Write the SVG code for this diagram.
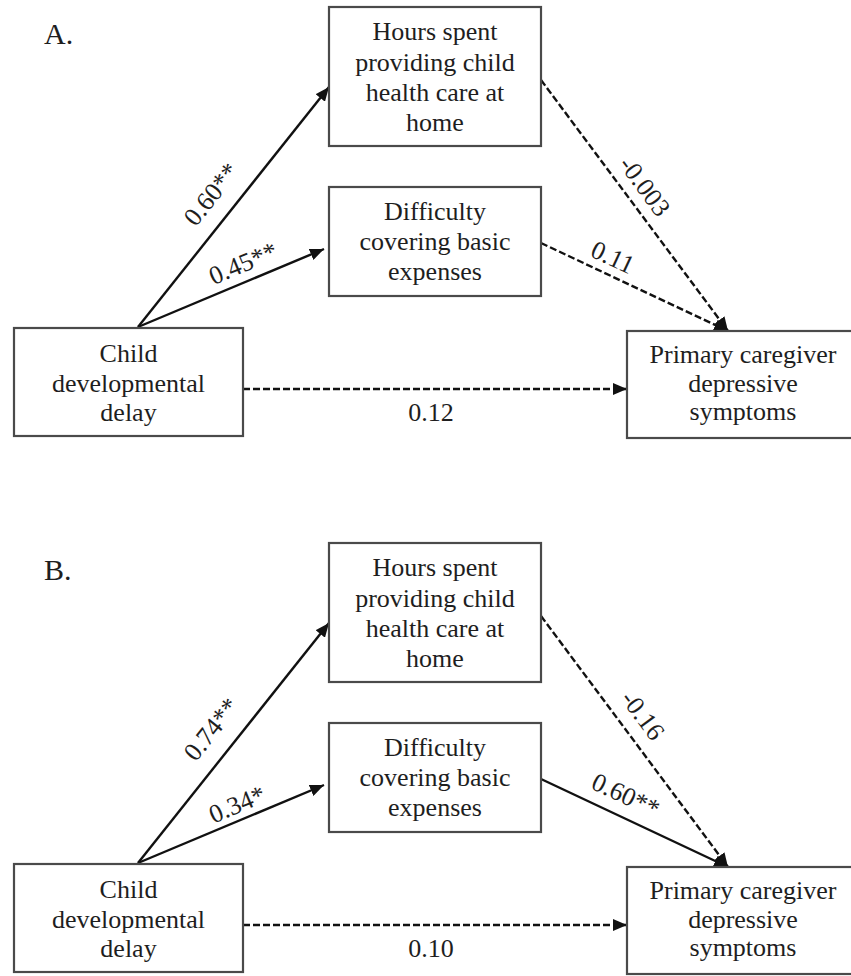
<svg xmlns="http://www.w3.org/2000/svg" width="851" height="976" viewBox="0 0 851 976">
<style>
  .box{fill:#fff;stroke:#4a4a4a;stroke-width:2.2}
  .t{font-family:"Liberation Serif","Times New Roman",serif;font-size:26px;fill:#1e1e1e;text-anchor:middle}
  .panel{font-family:"Liberation Serif","Times New Roman",serif;font-size:30px;fill:#1e1e1e}
  .solid{stroke:#111;stroke-width:2.4;fill:none;marker-end:url(#ah)}
  .dash{stroke:#111;stroke-width:2.4;fill:none;stroke-dasharray:7 3;marker-end:url(#ah)}
</style>
<defs>
  <marker id="ah" markerUnits="userSpaceOnUse" markerWidth="14" markerHeight="12" refX="14" refY="6" orient="auto">
    <path d="M0,0 L14,6 L0,12 z" fill="#111"/>
  </marker>
</defs>
<rect width="851" height="976" fill="#fff"/>

<!-- Panel A -->
<g id="panelA">
  <text class="panel" x="44" y="44">A.</text>
  <g id="connectorsA">
    <line class="solid" x1="138" y1="327" x2="329" y2="87"/>
    <line class="solid" x1="138" y1="327" x2="324" y2="249"/>
    <line class="dash" x1="541" y1="80" x2="728" y2="331"/>
    <line class="dash" x1="541" y1="243" x2="728" y2="331"/>
    <line class="dash" x1="243" y1="389" x2="627" y2="389"/>
    <text class="t" transform="translate(211,194) rotate(-51.5)" y="9">0.60**</text>
    <text class="t" transform="translate(243,263) rotate(-22.8)" y="9">0.45**</text>
    <text class="t" transform="translate(645,186) rotate(53.4)" y="9">-0.003</text>
    <text class="t" transform="translate(613,257) rotate(25)" y="9">0.11</text>
    <text class="t" x="431" y="421">0.12</text>
  </g>
  <g id="A_hours">
    <rect class="box" x="329" y="7" width="212" height="139"/>
    <text class="t" x="435" y="40">Hours spent</text>
    <text class="t" x="435" y="71">providing child</text>
    <text class="t" x="435" y="101">health care at</text>
    <text class="t" x="435" y="131">home</text>
  </g>
  <g id="A_difficulty">
    <rect class="box" x="329" y="187" width="212" height="109"/>
    <text class="t" x="435" y="220">Difficulty</text>
    <text class="t" x="435" y="250">covering basic</text>
    <text class="t" x="435" y="280">expenses</text>
  </g>
  <g id="A_child">
    <rect class="box" x="14" y="328" width="229" height="108"/>
    <text class="t" x="128.5" y="362">Child</text>
    <text class="t" x="128.5" y="392">developmental</text>
    <text class="t" x="128.5" y="421">delay</text>
  </g>
  <g id="A_primary">
    <rect class="box" x="627" y="331" width="240" height="107"/>
    <text class="t" x="743" y="363">Primary caregiver</text>
    <text class="t" x="743" y="392">depressive</text>
    <text class="t" x="743" y="420">symptoms</text>
  </g>
</g>

<!-- Panel B -->
<g id="panelB" transform="translate(0,536)">
  <text class="panel" x="44" y="44">B.</text>
  <g id="connectorsB">
    <line class="solid" x1="138" y1="327" x2="329" y2="87"/>
    <line class="solid" x1="138" y1="327" x2="324" y2="249"/>
    <line class="dash" x1="541" y1="80" x2="728" y2="331"/>
    <line class="solid" x1="541" y1="243" x2="728" y2="331"/>
    <line class="dash" x1="243" y1="389" x2="627" y2="389"/>
    <text class="t" transform="translate(211,193) rotate(-51.5)" y="9">0.74**</text>
    <text class="t" transform="translate(237,268) rotate(-22.8)" y="9">0.34*</text>
    <text class="t" transform="translate(643,179) rotate(53.4)" y="9">-0.16</text>
    <text class="t" transform="translate(626,259) rotate(25)" y="9">0.60**</text>
    <text class="t" x="431" y="421">0.10</text>
  </g>
  <g id="B_hours">
    <rect class="box" x="329" y="7" width="212" height="139"/>
    <text class="t" x="435" y="40">Hours spent</text>
    <text class="t" x="435" y="71">providing child</text>
    <text class="t" x="435" y="101">health care at</text>
    <text class="t" x="435" y="131">home</text>
  </g>
  <g id="B_difficulty">
    <rect class="box" x="329" y="187" width="212" height="109"/>
    <text class="t" x="435" y="220">Difficulty</text>
    <text class="t" x="435" y="250">covering basic</text>
    <text class="t" x="435" y="280">expenses</text>
  </g>
  <g id="B_child">
    <rect class="box" x="14" y="328" width="229" height="108"/>
    <text class="t" x="128.5" y="362">Child</text>
    <text class="t" x="128.5" y="392">developmental</text>
    <text class="t" x="128.5" y="421">delay</text>
  </g>
  <g id="B_primary">
    <rect class="box" x="627" y="331" width="240" height="107"/>
    <text class="t" x="743" y="363">Primary caregiver</text>
    <text class="t" x="743" y="392">depressive</text>
    <text class="t" x="743" y="420">symptoms</text>
  </g>
</g>
</svg>
